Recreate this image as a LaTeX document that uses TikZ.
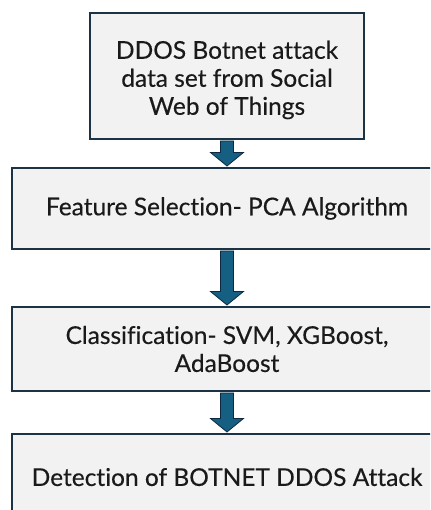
\documentclass[tikz,border=0pt]{standalone}
\usepackage{fontspec}
\setmainfont{Lato}[Ligatures=NoCommon, FakeBold=0.3]
\usetikzlibrary{calc}
\definecolor{boxfill}{HTML}{F2F2F2}
\definecolor{boxline}{HTML}{1C3346}
\definecolor{arrowfill}{HTML}{156082}
\definecolor{arrowline}{HTML}{0E2841}
\definecolor{ink}{HTML}{1A1A1A}
\tikzset{
  stage/.style={draw=boxline, line width=2pt, fill=boxfill, rectangle,
    align=center, text=ink, font=\fontsize{24.5}{28}\selectfont, inner sep=0pt},
  stagetext/.style={align=center, text=ink, font=\fontsize{24.5}{28}\selectfont, inner sep=0pt},
  flow/.style={fill=arrowfill, draw=arrowline, line width=0.8pt, line join=miter},
}
% block arrow from the bottom of one stage to the top of the next
\newcommand\flowarrow[2]{%
  \draw[flow] ($(#1.south)+(-6.5,-1)$) -- ($(#2.north)+(-6.5,14.5)$)
    -- ($(#2.north)+(-16.5,14.5)$) -- ($(#2.north)+(0,1)$)
    -- ($(#2.north)+(16.5,14.5)$) -- ($(#2.north)+(6.5,14.5)$)
    -- ($(#1.south)+(6.5,-1)$) -- cycle;}
\begin{document}
\begin{tikzpicture}[x=1pt,y=1pt]
\clip (0,0) rectangle (430,510);
\fill[white] (0,0) rectangle (430,510);
\node[stage, minimum width=274pt, minimum height=126pt] (data) at (227,434) {};
\node[stagetext] (datatext) at ($(data.center)+(0,-4)$)
  {DDOS Botnet attack\\data set from Social\\Web of Things};
\node[stage, minimum width=430pt, minimum height=81pt] (pca) at (227,301.5)
  {Feature Selection- PCA Algorithm};
\node[stage, minimum width=430pt, minimum height=84pt] (cls) at (227,161)
  {Classification- SVM, XGBoost,\\AdaBoost};
\node[stage, minimum width=430pt, minimum height=86pt] (det) at (227,33)
  {Detection of BOTNET DDOS Attack};
\flowarrow{data}{pca}
\flowarrow{pca}{cls}
\flowarrow{cls}{det}
\end{tikzpicture}
\end{document}
